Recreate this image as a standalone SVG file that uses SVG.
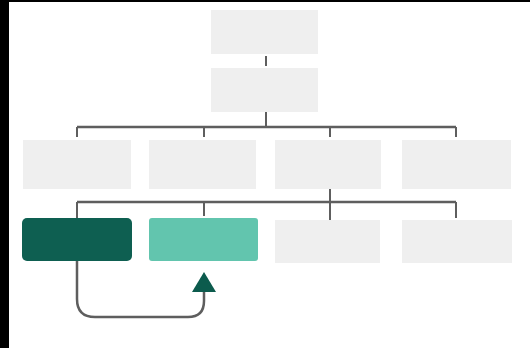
<svg xmlns="http://www.w3.org/2000/svg" width="530" height="348" viewBox="0 0 530 348">
  <defs>
    <style>
      .gbox { fill: #efefef; }
      .line { stroke: #5e5e5e; stroke-width: 2.5; fill: none; }
      .tick { stroke: #5e5e5e; stroke-width: 2; fill: none; }
    </style>
  </defs>
  <rect x="0" y="0" width="530" height="348" fill="#ffffff"/>
  <rect x="0" y="0" width="9" height="348" fill="#000000"/>
  <rect x="0" y="0" width="530" height="2" fill="#000000"/>

  <g id="connectors">
    <line class="tick" x1="266" y1="56" x2="266" y2="66"/>
    <line class="tick" x1="266" y1="112" x2="266" y2="128"/>
    <line class="line" x1="77" y1="127" x2="456" y2="127"/>
    <line class="tick" x1="77" y1="127" x2="77" y2="137"/>
    <line class="tick" x1="204" y1="127" x2="204" y2="137"/>
    <line class="tick" x1="330" y1="127" x2="330" y2="137"/>
    <line class="tick" x1="456" y1="127" x2="456" y2="137"/>
    <line class="line" x1="77" y1="202" x2="456" y2="202"/>
    <line class="tick" x1="330" y1="189" x2="330" y2="220"/>
    <line class="tick" x1="204" y1="202" x2="204" y2="216"/>
    <line class="tick" x1="456" y1="202" x2="456" y2="218"/>
    <line class="tick" x1="77" y1="202" x2="77" y2="218"/>
    <path class="line" d="M77 261 V299 Q77 317 95 317 H188 Q204 317 204 301 V288" stroke="#383838"/>
    <polygon points="204,272 192,292 216,292" fill="#0c5b4d"/>
  </g>

  <g id="n-top"><rect class="gbox" x="211" y="10" width="107" height="44"/></g>
  <g id="n-second"><rect class="gbox" x="211" y="68" width="107" height="44"/></g>

  <g id="n-r3a"><rect class="gbox" x="23" y="140" width="108" height="49"/></g>
  <g id="n-r3b"><rect class="gbox" x="149" y="140" width="107" height="49"/></g>
  <g id="n-r3c"><rect class="gbox" x="275" y="140" width="106" height="49"/></g>
  <g id="n-r3d"><rect class="gbox" x="402" y="140" width="109" height="49"/></g>

  <g id="n-dark"><rect x="22" y="218" width="110" height="43" rx="5" fill="#0e5f51"/></g>
  <g id="n-mid"><rect x="149" y="218" width="109" height="43" rx="3" fill="#62c5ae"/></g>
  <g id="n-r4c"><rect class="gbox" x="275" y="220" width="105" height="43"/></g>
  <g id="n-r4d"><rect class="gbox" x="402" y="220" width="110" height="43"/></g>
</svg>
